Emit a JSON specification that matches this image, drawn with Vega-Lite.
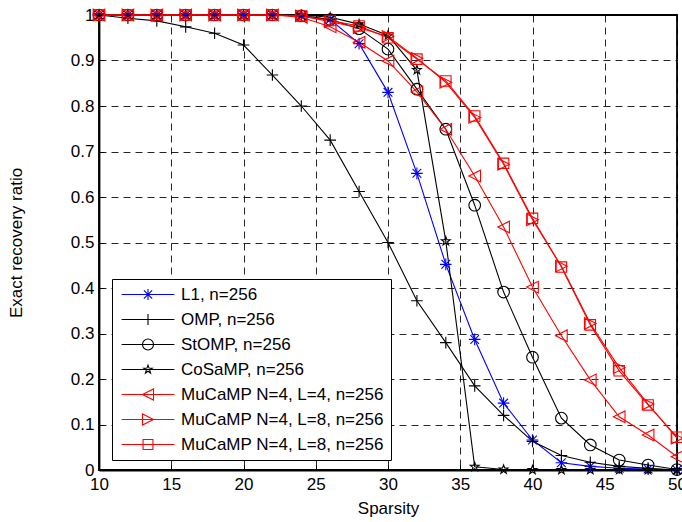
{
  "$schema": "https://vega.github.io/schema/vega-lite/v6.json",
  "autosize": "none",
  "width": 578,
  "height": 455,
  "padding": {"left": 99, "top": 15, "right": 5, "bottom": 52},
  "background": "white",
  "config": {
    "font": "Liberation Sans",
    "view": {"stroke": "black", "strokeWidth": 1.8},
    "axis": {
      "labelFont": "Liberation Sans",
      "labelFontSize": 17,
      "labelColor": "black",
      "titleFont": "Liberation Sans",
      "titleFontSize": 17,
      "titleFontWeight": "normal",
      "titleColor": "black",
      "domainColor": "black",
      "domainWidth": 1.8,
      "grid": true,
      "gridColor": "#000000",
      "gridOpacity": 0.85,
      "gridDash": [7, 5],
      "gridWidth": 1,
      "tickColor": "black",
      "ticks": true,
      "tickSize": -5,
      "tickWidth": 1
    }
  },
  "data": {
    "values": [
      {"sparsity": 10, "ratio": 1, "method": "L1, n=256"},
      {"sparsity": 12, "ratio": 1, "method": "L1, n=256"},
      {"sparsity": 14, "ratio": 1, "method": "L1, n=256"},
      {"sparsity": 16, "ratio": 1, "method": "L1, n=256"},
      {"sparsity": 18, "ratio": 1, "method": "L1, n=256"},
      {"sparsity": 20, "ratio": 1, "method": "L1, n=256"},
      {"sparsity": 22, "ratio": 1, "method": "L1, n=256"},
      {"sparsity": 24, "ratio": 0.998, "method": "L1, n=256"},
      {"sparsity": 26, "ratio": 0.99, "method": "L1, n=256"},
      {"sparsity": 28, "ratio": 0.937, "method": "L1, n=256"},
      {"sparsity": 30, "ratio": 0.83, "method": "L1, n=256"},
      {"sparsity": 32, "ratio": 0.652, "method": "L1, n=256"},
      {"sparsity": 34, "ratio": 0.452, "method": "L1, n=256"},
      {"sparsity": 36, "ratio": 0.287, "method": "L1, n=256"},
      {"sparsity": 38, "ratio": 0.147, "method": "L1, n=256"},
      {"sparsity": 40, "ratio": 0.066, "method": "L1, n=256"},
      {"sparsity": 42, "ratio": 0.016, "method": "L1, n=256"},
      {"sparsity": 44, "ratio": 0.008, "method": "L1, n=256"},
      {"sparsity": 46, "ratio": 0.004, "method": "L1, n=256"},
      {"sparsity": 48, "ratio": 0.002, "method": "L1, n=256"},
      {"sparsity": 50, "ratio": 0, "method": "L1, n=256"},

      {"sparsity": 10, "ratio": 1, "method": "OMP, n=256"},
      {"sparsity": 12, "ratio": 0.993, "method": "OMP, n=256"},
      {"sparsity": 14, "ratio": 0.987, "method": "OMP, n=256"},
      {"sparsity": 16, "ratio": 0.974, "method": "OMP, n=256"},
      {"sparsity": 18, "ratio": 0.96, "method": "OMP, n=256"},
      {"sparsity": 20, "ratio": 0.934, "method": "OMP, n=256"},
      {"sparsity": 22, "ratio": 0.868, "method": "OMP, n=256"},
      {"sparsity": 24, "ratio": 0.8, "method": "OMP, n=256"},
      {"sparsity": 26, "ratio": 0.725, "method": "OMP, n=256"},
      {"sparsity": 28, "ratio": 0.612, "method": "OMP, n=256"},
      {"sparsity": 30, "ratio": 0.5, "method": "OMP, n=256"},
      {"sparsity": 32, "ratio": 0.372, "method": "OMP, n=256"},
      {"sparsity": 34, "ratio": 0.28, "method": "OMP, n=256"},
      {"sparsity": 36, "ratio": 0.185, "method": "OMP, n=256"},
      {"sparsity": 38, "ratio": 0.12, "method": "OMP, n=256"},
      {"sparsity": 40, "ratio": 0.063, "method": "OMP, n=256"},
      {"sparsity": 42, "ratio": 0.032, "method": "OMP, n=256"},
      {"sparsity": 44, "ratio": 0.017, "method": "OMP, n=256"},
      {"sparsity": 46, "ratio": 0.008, "method": "OMP, n=256"},
      {"sparsity": 48, "ratio": 0.004, "method": "OMP, n=256"},
      {"sparsity": 50, "ratio": 0, "method": "OMP, n=256"},

      {"sparsity": 10, "ratio": 1, "method": "StOMP, n=256"},
      {"sparsity": 12, "ratio": 1, "method": "StOMP, n=256"},
      {"sparsity": 14, "ratio": 1, "method": "StOMP, n=256"},
      {"sparsity": 16, "ratio": 1, "method": "StOMP, n=256"},
      {"sparsity": 18, "ratio": 1, "method": "StOMP, n=256"},
      {"sparsity": 20, "ratio": 1, "method": "StOMP, n=256"},
      {"sparsity": 22, "ratio": 1, "method": "StOMP, n=256"},
      {"sparsity": 24, "ratio": 0.998, "method": "StOMP, n=256"},
      {"sparsity": 26, "ratio": 0.99, "method": "StOMP, n=256"},
      {"sparsity": 28, "ratio": 0.97, "method": "StOMP, n=256"},
      {"sparsity": 30, "ratio": 0.925, "method": "StOMP, n=256"},
      {"sparsity": 32, "ratio": 0.837, "method": "StOMP, n=256"},
      {"sparsity": 34, "ratio": 0.749, "method": "StOMP, n=256"},
      {"sparsity": 36, "ratio": 0.582, "method": "StOMP, n=256"},
      {"sparsity": 38, "ratio": 0.391, "method": "StOMP, n=256"},
      {"sparsity": 40, "ratio": 0.248, "method": "StOMP, n=256"},
      {"sparsity": 42, "ratio": 0.114, "method": "StOMP, n=256"},
      {"sparsity": 44, "ratio": 0.055, "method": "StOMP, n=256"},
      {"sparsity": 46, "ratio": 0.022, "method": "StOMP, n=256"},
      {"sparsity": 48, "ratio": 0.011, "method": "StOMP, n=256"},
      {"sparsity": 50, "ratio": 0.001, "method": "StOMP, n=256"},

      {"sparsity": 10, "ratio": 1, "method": "CoSaMP, n=256"},
      {"sparsity": 12, "ratio": 1, "method": "CoSaMP, n=256"},
      {"sparsity": 14, "ratio": 1, "method": "CoSaMP, n=256"},
      {"sparsity": 16, "ratio": 1, "method": "CoSaMP, n=256"},
      {"sparsity": 18, "ratio": 1, "method": "CoSaMP, n=256"},
      {"sparsity": 20, "ratio": 1, "method": "CoSaMP, n=256"},
      {"sparsity": 22, "ratio": 1, "method": "CoSaMP, n=256"},
      {"sparsity": 24, "ratio": 1, "method": "CoSaMP, n=256"},
      {"sparsity": 26, "ratio": 0.995, "method": "CoSaMP, n=256"},
      {"sparsity": 28, "ratio": 0.98, "method": "CoSaMP, n=256"},
      {"sparsity": 30, "ratio": 0.955, "method": "CoSaMP, n=256"},
      {"sparsity": 32, "ratio": 0.879, "method": "CoSaMP, n=256"},
      {"sparsity": 34, "ratio": 0.503, "method": "CoSaMP, n=256"},
      {"sparsity": 36, "ratio": 0.007, "method": "CoSaMP, n=256"},
      {"sparsity": 38, "ratio": 0.001, "method": "CoSaMP, n=256"},
      {"sparsity": 40, "ratio": 0, "method": "CoSaMP, n=256"},
      {"sparsity": 42, "ratio": 0, "method": "CoSaMP, n=256"},
      {"sparsity": 44, "ratio": 0, "method": "CoSaMP, n=256"},
      {"sparsity": 46, "ratio": 0, "method": "CoSaMP, n=256"},
      {"sparsity": 48, "ratio": 0, "method": "CoSaMP, n=256"},
      {"sparsity": 50, "ratio": 0, "method": "CoSaMP, n=256"},

      {"sparsity": 10, "ratio": 1, "method": "MuCaMP N=4, L=4, n=256"},
      {"sparsity": 12, "ratio": 1, "method": "MuCaMP N=4, L=4, n=256"},
      {"sparsity": 14, "ratio": 1, "method": "MuCaMP N=4, L=4, n=256"},
      {"sparsity": 16, "ratio": 1, "method": "MuCaMP N=4, L=4, n=256"},
      {"sparsity": 18, "ratio": 1, "method": "MuCaMP N=4, L=4, n=256"},
      {"sparsity": 20, "ratio": 1, "method": "MuCaMP N=4, L=4, n=256"},
      {"sparsity": 22, "ratio": 1, "method": "MuCaMP N=4, L=4, n=256"},
      {"sparsity": 24, "ratio": 0.995, "method": "MuCaMP N=4, L=4, n=256"},
      {"sparsity": 26, "ratio": 0.974, "method": "MuCaMP N=4, L=4, n=256"},
      {"sparsity": 28, "ratio": 0.94, "method": "MuCaMP N=4, L=4, n=256"},
      {"sparsity": 30, "ratio": 0.899, "method": "MuCaMP N=4, L=4, n=256"},
      {"sparsity": 32, "ratio": 0.831, "method": "MuCaMP N=4, L=4, n=256"},
      {"sparsity": 34, "ratio": 0.749, "method": "MuCaMP N=4, L=4, n=256"},
      {"sparsity": 36, "ratio": 0.646, "method": "MuCaMP N=4, L=4, n=256"},
      {"sparsity": 38, "ratio": 0.534, "method": "MuCaMP N=4, L=4, n=256"},
      {"sparsity": 40, "ratio": 0.402, "method": "MuCaMP N=4, L=4, n=256"},
      {"sparsity": 42, "ratio": 0.295, "method": "MuCaMP N=4, L=4, n=256"},
      {"sparsity": 44, "ratio": 0.198, "method": "MuCaMP N=4, L=4, n=256"},
      {"sparsity": 46, "ratio": 0.117, "method": "MuCaMP N=4, L=4, n=256"},
      {"sparsity": 48, "ratio": 0.077, "method": "MuCaMP N=4, L=4, n=256"},
      {"sparsity": 50, "ratio": 0.029, "method": "MuCaMP N=4, L=4, n=256"},

      {"sparsity": 10, "ratio": 1, "method": "MuCaMP N=4, L=8, n=256"},
      {"sparsity": 12, "ratio": 1, "method": "MuCaMP N=4, L=8, n=256"},
      {"sparsity": 14, "ratio": 1, "method": "MuCaMP N=4, L=8, n=256"},
      {"sparsity": 16, "ratio": 1, "method": "MuCaMP N=4, L=8, n=256"},
      {"sparsity": 18, "ratio": 1, "method": "MuCaMP N=4, L=8, n=256"},
      {"sparsity": 20, "ratio": 1, "method": "MuCaMP N=4, L=8, n=256"},
      {"sparsity": 22, "ratio": 1, "method": "MuCaMP N=4, L=8, n=256"},
      {"sparsity": 24, "ratio": 0.998, "method": "MuCaMP N=4, L=8, n=256"},
      {"sparsity": 26, "ratio": 0.985, "method": "MuCaMP N=4, L=8, n=256"},
      {"sparsity": 28, "ratio": 0.972, "method": "MuCaMP N=4, L=8, n=256"},
      {"sparsity": 30, "ratio": 0.953, "method": "MuCaMP N=4, L=8, n=256"},
      {"sparsity": 32, "ratio": 0.905, "method": "MuCaMP N=4, L=8, n=256"},
      {"sparsity": 34, "ratio": 0.852, "method": "MuCaMP N=4, L=8, n=256"},
      {"sparsity": 36, "ratio": 0.775, "method": "MuCaMP N=4, L=8, n=256"},
      {"sparsity": 38, "ratio": 0.672, "method": "MuCaMP N=4, L=8, n=256"},
      {"sparsity": 40, "ratio": 0.55, "method": "MuCaMP N=4, L=8, n=256"},
      {"sparsity": 42, "ratio": 0.448, "method": "MuCaMP N=4, L=8, n=256"},
      {"sparsity": 44, "ratio": 0.322, "method": "MuCaMP N=4, L=8, n=256"},
      {"sparsity": 46, "ratio": 0.225, "method": "MuCaMP N=4, L=8, n=256"},
      {"sparsity": 48, "ratio": 0.145, "method": "MuCaMP N=4, L=8, n=256"},
      {"sparsity": 50, "ratio": 0.07, "method": "MuCaMP N=4, L=8, n=256"},

      {"sparsity": 10, "ratio": 1, "method": "MuCaMP N=4, L=8, n=256 (2)"},
      {"sparsity": 12, "ratio": 1, "method": "MuCaMP N=4, L=8, n=256 (2)"},
      {"sparsity": 14, "ratio": 1, "method": "MuCaMP N=4, L=8, n=256 (2)"},
      {"sparsity": 16, "ratio": 1, "method": "MuCaMP N=4, L=8, n=256 (2)"},
      {"sparsity": 18, "ratio": 1, "method": "MuCaMP N=4, L=8, n=256 (2)"},
      {"sparsity": 20, "ratio": 1, "method": "MuCaMP N=4, L=8, n=256 (2)"},
      {"sparsity": 22, "ratio": 1, "method": "MuCaMP N=4, L=8, n=256 (2)"},
      {"sparsity": 24, "ratio": 0.998, "method": "MuCaMP N=4, L=8, n=256 (2)"},
      {"sparsity": 26, "ratio": 0.988, "method": "MuCaMP N=4, L=8, n=256 (2)"},
      {"sparsity": 28, "ratio": 0.976, "method": "MuCaMP N=4, L=8, n=256 (2)"},
      {"sparsity": 30, "ratio": 0.95, "method": "MuCaMP N=4, L=8, n=256 (2)"},
      {"sparsity": 32, "ratio": 0.903, "method": "MuCaMP N=4, L=8, n=256 (2)"},
      {"sparsity": 34, "ratio": 0.855, "method": "MuCaMP N=4, L=8, n=256 (2)"},
      {"sparsity": 36, "ratio": 0.778, "method": "MuCaMP N=4, L=8, n=256 (2)"},
      {"sparsity": 38, "ratio": 0.674, "method": "MuCaMP N=4, L=8, n=256 (2)"},
      {"sparsity": 40, "ratio": 0.553, "method": "MuCaMP N=4, L=8, n=256 (2)"},
      {"sparsity": 42, "ratio": 0.446, "method": "MuCaMP N=4, L=8, n=256 (2)"},
      {"sparsity": 44, "ratio": 0.319, "method": "MuCaMP N=4, L=8, n=256 (2)"},
      {"sparsity": 46, "ratio": 0.218, "method": "MuCaMP N=4, L=8, n=256 (2)"},
      {"sparsity": 48, "ratio": 0.143, "method": "MuCaMP N=4, L=8, n=256 (2)"},
      {"sparsity": 50, "ratio": 0.072, "method": "MuCaMP N=4, L=8, n=256 (2)"}
    ]
  },
  "encoding": {
    "x": {
      "field": "sparsity",
      "type": "quantitative",
      "scale": {"domain": [10, 50], "nice": false, "zero": false},
      "axis": {"title": "Sparsity", "values": [10, 15, 20, 25, 30, 35, 40, 45, 50], "labelPadding": 11, "titlePadding": 8, "labelFlush": false}
    },
    "y": {
      "field": "ratio",
      "type": "quantitative",
      "scale": {"domain": [0, 1], "nice": false},
      "axis": {"title": "Exact recovery ratio", "values": [0, 0.1, 0.2, 0.3, 0.4, 0.5, 0.6, 0.7, 0.8, 0.9, 1], "format": ".1~f", "labelPadding": 10, "titlePadding": 45, "labelFlush": false}
    }
  },
  "layer": [
    {
      "mark": {"type": "line", "strokeWidth": 1.1},
      "encoding": {
        "color": {
          "field": "method",
          "type": "nominal",
          "scale": {
            "domain": ["L1, n=256", "OMP, n=256", "StOMP, n=256", "CoSaMP, n=256", "MuCaMP N=4, L=4, n=256", "MuCaMP N=4, L=8, n=256", "MuCaMP N=4, L=8, n=256 (2)"],
            "range": ["#0000ff", "#000000", "#000000", "#000000", "#ff0000", "#ff0000", "#ff0000"]
          }
        }
      }
    },
    {
      "mark": {"type": "point", "filled": false, "size": 135, "strokeWidth": 1.1, "opacity": 1},
      "encoding": {
        "color": {
          "field": "method",
          "type": "nominal",
          "legend": {
            "title": null,
            "orient": "none",
            "legendX": 13,
            "legendY": 264,
            "padding": 7,
            "strokeColor": "black",
            "fillColor": "white",
            "labelFont": "Liberation Sans",
            "labelFontSize": 17,
            "labelColor": "black",
            "labelLimit": 400,
            "rowPadding": 7,
            "symbolSize": 121,
            "symbolStrokeWidth": 1.1,
            "symbolOffset": 20.5,
            "labelOffset": 24.5,
            "labelExpr": "replace(datum.label, ' (2)', '')",
            "symbolType": {"expr": "datum.value === 'L1, n=256' ? 'M-4.8,0H4.8M0,-1V1M-0.75,-0.75L0.75,0.75M-0.75,0.75L0.75,-0.75' : datum.value === 'OMP, n=256' ? 'M-4.8,0H4.8M0,-1V1' : datum.value === 'StOMP, n=256' ? 'M-4.8,0H4.8M-1,0A1,1,0,1,0,1,0A1,1,0,1,0,-1,0' : datum.value === 'CoSaMP, n=256' ? 'M-4.8,0H4.8M0,-0.8L0.188,-0.259L0.761,-0.247L0.304,0.099L0.47,0.647L0,0.32L-0.47,0.647L-0.304,0.099L-0.761,-0.247L-0.188,-0.259Z' : datum.value === 'MuCaMP N=4, L=4, n=256' ? 'M-4.8,0H4.8M-1,0L1,-1L1,1Z' : datum.value === 'MuCaMP N=4, L=8, n=256' ? 'M-4.8,0H4.8M1,0L-1,-1L-1,1Z' : 'M-4.8,0H4.8M-0.9,-0.9H0.9V0.9H-0.9Z'"}
          }
        },
        "shape": {
          "field": "method",
          "type": "nominal",
          "scale": {
            "domain": ["MuCaMP N=4, L=8, n=256 (2)", "MuCaMP N=4, L=8, n=256", "MuCaMP N=4, L=4, n=256", "CoSaMP, n=256", "StOMP, n=256", "OMP, n=256", "L1, n=256"],
            "range": [
              "M-0.9,-0.9H0.9V0.9H-0.9Z",
              "M1,0L-1,-1L-1,1Z",
              "M-1,0L1,-1L1,1Z",
              "M0,-0.8L0.188,-0.259L0.761,-0.247L0.304,0.099L0.47,0.647L0,0.32L-0.47,0.647L-0.304,0.099L-0.761,-0.247L-0.188,-0.259Z",
              "M-1,0A1,1,0,1,0,1,0A1,1,0,1,0,-1,0",
              "M0,-1V1M-1,0H1",
              "M0,-1V1M-1,0H1M-0.75,-0.75L0.75,0.75M-0.75,0.75L0.75,-0.75"
            ]
          },
          "legend": null
        }
      }
    }
  ]
}
